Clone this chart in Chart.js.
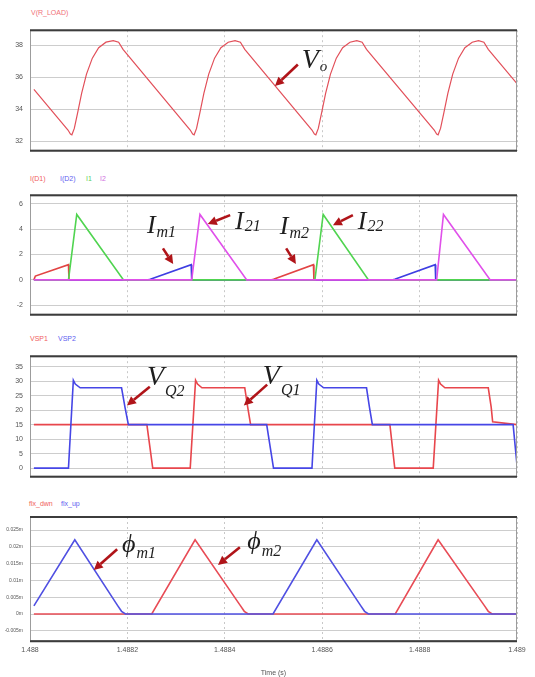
<!DOCTYPE html>
<html>
<head>
<meta charset="utf-8">
<script src="https://cdn.jsdelivr.net/npm/chart.js@4.4.0/dist/chart.umd.min.js"></script>
<style>
  html, body { margin: 0; padding: 0; background: #fff; }
  #page { position: relative; width: 535px; height: 677px; overflow: hidden; font-family: "Liberation Sans", Arial, sans-serif; }
  .box { position: absolute; left: 0; width: 535px; }
  .lg { position: absolute; font-size: 7px; line-height: 8px; white-space: nowrap; }
</style>
</head>
<body>
<div id="page">
  <div class="lg" style="left:31px;top:9px;color:#f07078">V(R_LOAD)</div>
  <div class="box" style="top:19px;height:143px"><canvas id="cVo"></canvas></div>

  <div class="lg" style="left:30px;top:175px;color:#f06060">I(D1)</div>
  <div class="lg" style="left:60px;top:175px;color:#6060f0">I(D2)</div>
  <div class="lg" style="left:86px;top:175px;color:#60d060">I1</div>
  <div class="lg" style="left:100px;top:175px;color:#d070e0">I2</div>
  <div class="box" style="top:184px;height:142px"><canvas id="cI"></canvas></div>

  <div class="lg" style="left:30px;top:335px;color:#f06060">VSP1</div>
  <div class="lg" style="left:58px;top:335px;color:#6060f0">VSP2</div>
  <div class="box" style="top:345px;height:143px"><canvas id="cVq"></canvas></div>

  <div class="lg" style="left:29px;top:500px;color:#f06060">flx_dwn</div>
  <div class="lg" style="left:61px;top:500px;color:#6060f0">flx_up</div>
  <div class="box" style="top:507px;height:170px"><canvas id="cFlux"></canvas></div>
</div>

<script>
// time axis in microseconds after 1.488 s
const timeTicks = [0, 200, 400, 600, 800, 1000];
const timeTickLabels = ["1.488", "1.4882", "1.4884", "1.4886", "1.4888", "1.489"];

// output voltage
const voTime = [8, 60, 78, 83, 86, 91, 98, 106, 116, 128, 141, 156, 171, 182, 191,
  329, 334, 337, 342, 349, 357, 367, 379, 392, 407, 421, 432, 441,
  579, 584, 587, 592, 599, 607, 617, 629, 642, 657, 671, 682, 691,
  830, 835, 838, 843, 850, 858, 868, 880, 893, 908, 921, 932, 941, 1000];
const voVals = [35.25, 33.35, 32.7, 32.45, 32.4, 32.8, 33.8, 35.0, 36.2, 37.2, 37.85, 38.2, 38.3, 38.2, 37.75,
  32.7, 32.45, 32.4, 32.8, 33.8, 35.0, 36.2, 37.2, 37.85, 38.2, 38.3, 38.2, 37.75,
  32.7, 32.45, 32.4, 32.8, 33.8, 35.0, 36.2, 37.2, 37.85, 38.2, 38.3, 38.2, 37.75,
  32.7, 32.45, 32.4, 32.8, 33.8, 35.0, 36.2, 37.2, 37.85, 38.2, 38.3, 38.2, 37.75, 35.6];
const voTicks = [32, 34, 36, 38];
const voTickLabels = ["32", "34", "36", "38"];

// currents
const id1Time = [8, 11, 79, 80, 496, 500, 582, 583, 1000];
const id1Vals = [0, 0.3, 1.2, 0, 0, 0.05, 1.2, 0, 0];
const id2Time = [8, 243, 247, 331, 332, 745, 749, 832, 833, 1000];
const id2Vals = [0, 0, 0.05, 1.2, 0, 0, 0.05, 1.2, 0, 0];
const i1Time = [8, 79, 96, 192, 585, 602, 695, 1000];
const i1Vals = [0, 0, 5.15, 0, 0, 5.15, 0, 0];
const i2Time = [8, 332, 349, 445, 835, 849, 945, 1000];
const i2Vals = [0, 0, 5.15, 0, 0, 5.15, 0, 0];
const iTicks = [-2, 0, 2, 4, 6];
const iTickLabels = ["-2", "0", "2", "4", "6"];

// switch voltages
const vq1Time = [8, 240, 252, 329, 340, 344, 353, 441, 447, 453,
  739, 749, 828, 839, 843, 852, 941, 947, 950, 1000];
const vq1Vals = [15, 15, 0, 0, 30.3, 29, 27.7, 27.7, 21, 15,
  15, 0, 0, 30.3, 29, 27.7, 27.7, 21, 16, 15];
const vq2Time = [8, 79, 89, 93, 103, 188, 195, 202, 486, 500, 579, 589, 593, 603, 691, 697, 703, 992, 1000];
const vq2Vals = [0, 0, 30.3, 29, 27.7, 27.7, 21, 15, 15, 0, 0, 30.3, 29, 27.7, 27.7, 21, 15, 15, 1];
const vqTicks = [0, 5, 10, 15, 20, 25, 30, 35];
const vqTickLabels = ["0", "5", "10", "15", "20", "25", "30", "35"];

// fluxes (m)
const upTime = [8, 92, 180, 188, 196, 499, 589, 679, 687, 695, 1000];
const upVals = [0.0024, 0.0221, 0.0025, 0.0008, 0, 0, 0.0221, 0.0025, 0.0008, 0, 0];
const dnTime = [8, 250, 339, 432, 440, 448, 750, 838, 933, 941, 949, 1000];
const dnVals = [0, 0, 0.0221, 0.0025, 0.0008, 0, 0, 0.0221, 0.0025, 0.0008, 0, 0];
const fluxTicks = [-0.005, 0, 0.005, 0.01, 0.015, 0.02, 0.025];
const fluxTickLabels = ["-0.005m", "0m", "0.005m", "0.01m", "0.015m", "0.02m", "0.025m"];

// callouts, in data units
const notes = {
  cVo: {
    labels: [{ t: 558, v: 36.59, main: "V", sub: "o", size: 28, subSize: 15, dy: 3 }],
    arrows: [[550, 36.8, 503, 35.45]]
  },
  cI: {
    labels: [
      { t: 240, v: 3.68, main: "I", sub: "m1", size: 26, subSize: 16, dy: 4 },
      { t: 421, v: 3.98, main: "I", sub: "21", size: 26, subSize: 16, dy: 2 },
      { t: 513, v: 3.6, main: "I", sub: "m2", size: 26, subSize: 16, dy: 4 },
      { t: 673, v: 3.98, main: "I", sub: "22", size: 26, subSize: 16, dy: 2 }
    ],
    arrows: [[273, 2.48, 294, 1.25], [411, 5.1, 365, 4.4], [526, 2.48, 546, 1.25], [663, 5.1, 622, 4.3]]
  },
  cVq: {
    labels: [
      { t: 240, v: 28.8, main: "V", sub: "Q2", size: 28, subSize: 16, dy: 11 },
      { t: 478, v: 29.1, main: "V", sub: "Q1", size: 28, subSize: 16, dy: 11 }
    ],
    arrows: [[246, 28.1, 199, 21.6], [487, 28.8, 439, 21.6]]
  },
  cFlux: {
    labels: [
      { t: 189, v: 0.0185, main: "\u03d5", sub: "m1", size: 26, subSize: 16, dy: 6 },
      { t: 446, v: 0.0193, main: "\u03d5", sub: "m2", size: 26, subSize: 16, dy: 7 }
    ],
    arrows: [[179, 0.0193, 131, 0.0131], [431, 0.0199, 386, 0.0146]]
  }
};

const tickFont = { family: "Liberation Sans", size: 7 };

function toXY(ts, vs) {
  return ts.map((t, i) => ({ x: t, y: vs[i] }));
}

function drawArrow(ctx, x1, y1, x2, y2) {
  const a = Math.atan2(y2 - y1, x2 - x1);
  const hl = 9, hw = 4.5;
  const bx = x2 - hl * Math.cos(a), by = y2 - hl * Math.sin(a);
  ctx.strokeStyle = "#b01419";
  ctx.fillStyle = "#b01419";
  ctx.lineWidth = 2.6;
  ctx.beginPath();
  ctx.moveTo(x1, y1);
  ctx.lineTo(bx, by);
  ctx.stroke();
  ctx.beginPath();
  ctx.moveTo(x2, y2);
  ctx.lineTo(bx + hw * Math.sin(a), by - hw * Math.cos(a));
  ctx.lineTo(bx - hw * Math.sin(a), by + hw * Math.cos(a));
  ctx.closePath();
  ctx.fill();
}

const overlay = {
  id: "overlay",
  afterDatasetsDraw(chart) {
    const ctx = chart.ctx;
    const area = chart.chartArea;
    const xs = chart.scales.x, ys = chart.scales.y;
    ctx.save();
    // plot frame
    ctx.strokeStyle = "#9c9c9c";
    ctx.lineWidth = 1;
    ctx.strokeRect(area.left + 0.5, area.top + 0.5, area.width - 1, area.height - 1);
    ctx.strokeStyle = "#3c3c3c";
    ctx.lineWidth = 2;
    ctx.beginPath();
    ctx.moveTo(area.left, area.top);
    ctx.lineTo(area.right, area.top);
    ctx.moveTo(area.left, area.bottom);
    ctx.lineTo(area.right, area.bottom);
    ctx.stroke();

    const n = notes[chart.canvas.id];
    if (n) {
      n.arrows.forEach(ar => {
        drawArrow(ctx, xs.getPixelForValue(ar[0]), ys.getPixelForValue(ar[1]),
          xs.getPixelForValue(ar[2]), ys.getPixelForValue(ar[3]));
      });
      ctx.fillStyle = "#1e1e1e";
      ctx.textAlign = "left";
      ctx.textBaseline = "alphabetic";
      n.labels.forEach(lb => {
        const px = xs.getPixelForValue(lb.t), py = ys.getPixelForValue(lb.v);
        ctx.font = "italic " + lb.size + "px 'Liberation Serif', serif";
        ctx.fillText(lb.main, px, py);
        const w = ctx.measureText(lb.main).width;
        ctx.font = "italic " + lb.subSize + "px 'Liberation Serif', serif";
        ctx.fillText(lb.sub, px + w + 1, py + lb.dy);
      });
    }
    ctx.restore();
  }
};
Chart.register(overlay);

function makeChart(id, datasets, yMin, yMax, yTicks, yLabels, showX, yFontSize) {
  return new Chart(document.getElementById(id), {
    type: "line",
    data: { datasets: datasets },
    options: {
      responsive: true,
      maintainAspectRatio: false,
      animation: false,
      layout: { padding: { top: 8, bottom: showX ? 0 : 8, left: 0, right: 18 } },
      plugins: { legend: { display: false }, tooltip: { enabled: false } },
      elements: { point: { radius: 0 }, line: { borderWidth: 1.6, tension: 0 } },
      scales: {
        x: {
          type: "linear",
          min: 0,
          max: 1000,
          afterBuildTicks: s => { s.ticks = timeTicks.map(v => ({ value: v })); },
          ticks: {
            display: showX,
            autoSkip: false,
            maxRotation: 0,
            padding: 5,
            font: tickFont,
            color: "#555",
            callback: v => timeTickLabels[timeTicks.indexOf(v)]
          },
          grid: { color: "#c8c8c8", drawTicks: false },
          border: { display: false, dash: [2, 3] },
          title: {
            display: showX,
            text: "Time (s)",
            font: tickFont,
            color: "#555",
            padding: { top: 9, bottom: 0 }
          }
        },
        y: {
          min: yMin,
          max: yMax,
          afterFit: s => { s.width = 30; },
          afterBuildTicks: s => { s.ticks = yTicks.map(v => ({ value: v })); },
          ticks: {
            padding: 7,
            font: { family: "Liberation Sans", size: yFontSize },
            color: "#555",
            callback: v => yLabels[yTicks.indexOf(v)]
          },
          grid: { color: "#cdcdcd", drawTicks: false },
          border: { display: false }
        }
      }
    }
  });
}

makeChart("cVo", [
  { data: toXY(voTime, voVals), borderColor: "#e2505a", borderWidth: 1.2 }
], 31.4, 38.95, voTicks, voTickLabels, false, 7);

makeChart("cI", [
  { data: toXY(i2Time, i2Vals), borderColor: "#e050ea" },
  { data: toXY(i1Time, i1Vals), borderColor: "#50d450" },
  { data: toXY(id2Time, id2Vals), borderColor: "#3e3ee2" },
  { data: toXY(id1Time, id1Vals), borderColor: "#e24444" }
], -2.75, 6.67, iTicks, iTickLabels, false, 7);

makeChart("cVq", [
  { data: toXY(vq2Time, vq2Vals), borderColor: "#4646e6" },
  { data: toXY(vq1Time, vq1Vals), borderColor: "#e8464c" }
], -3, 38.6, vqTicks, vqTickLabels, false, 7);

makeChart("cFlux", [
  { data: toXY(upTime, upVals), borderColor: "#5050e2" },
  { data: toXY(dnTime, dnVals), borderColor: "#e84c56" }
], -0.0081, 0.0289, fluxTicks, fluxTickLabels, true, 5);
</script>
</body>
</html>
